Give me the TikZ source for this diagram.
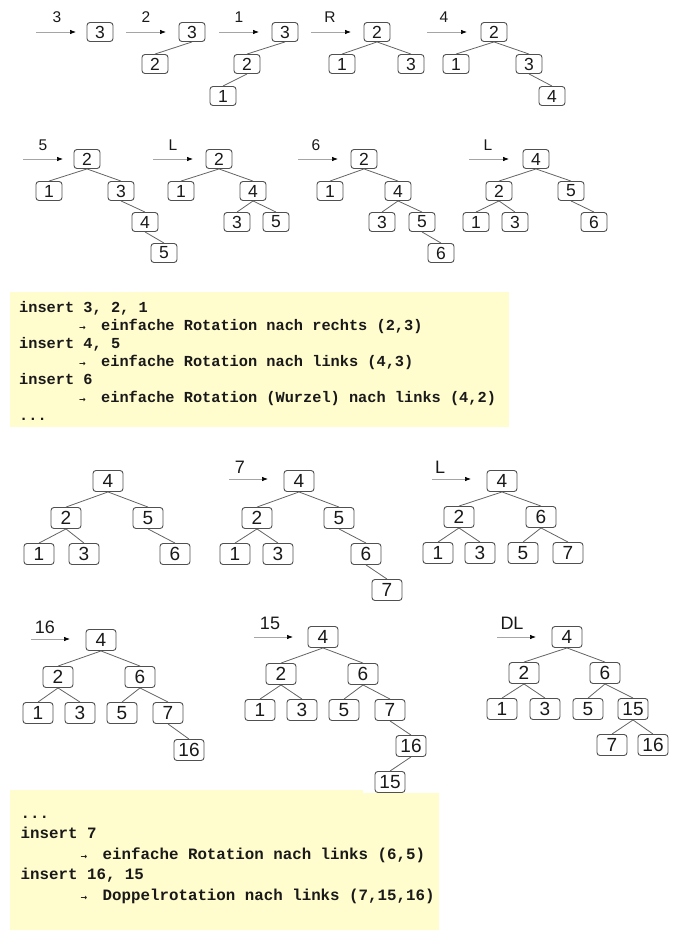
\documentclass[tikz,border=0pt]{standalone}
\usepackage{fontspec}
\setmainfont{Liberation Sans}
\newfontfamily\codefont{Liberation Mono}
\newfontfamily\symfont{DejaVu Sans}
\usetikzlibrary{arrows.meta}

\definecolor{codebg}{RGB}{255,252,206}
\definecolor{boxline}{RGB}{80,80,80}
\definecolor{edgeline}{RGB}{100,100,100}
\definecolor{insline}{RGB}{165,165,165}
\definecolor{ink}{RGB}{25,25,25}

\newcommand{\rotline}[1]{\hspace*{60pt}\makebox[22pt][l]{\symfont\fontsize{8}{8}\selectfont →}#1}
\newcommand{\codedots}{...}

\tikzset{
  key/.style={draw=boxline, rounded corners=3pt, line width=0.9pt, inner sep=0pt,
    minimum width=26pt, minimum height=19pt, text=ink, font=\fontsize{17.5}{17.5}\selectfont},
  bigkey/.style={key, minimum width=30pt, minimum height=21pt, font=\fontsize{19}{19}\selectfont},
  link/.style={draw=edgeline, line width=0.8pt},
  ins/.style={draw=insline, line width=0.7pt, -{Latex[color=black, length=6pt, width=4.5pt]}},
  inslabel/.style={text=ink, inner sep=0pt, font=\fontsize{15.5}{15.5}\selectfont},
  biglabel/.style={inslabel, font=\fontsize{18}{18}\selectfont},
  codeline/.style={anchor=base west, inner sep=0pt, text=ink, font=\codefont\bfseries\fontsize{15.3}{18}\selectfont},
  bigcodeline/.style={codeline, font=\codefont\bfseries\fontsize{15.8}{20}\selectfont},
}

\begin{document}
\begin{tikzpicture}[x=1pt, y=-1pt]
    \useasboundingbox (0,0) rectangle (678,944);

    \foreach \i/\x/\y/\lx/\ly/\t in {1/36/32/57/17/3, 2/126/32/146/17/2, 3/219/32/239/17/1,
        4/311/32/330/17/R, 5/427/32/444/17/4, 6/23/159/43/145/5, 7/153/159/173/145/L,
        8/298/159/316/145/6, 9/469/159/488/145/L} {
        \coordinate (s\i) at (\x,\y);
        \coordinate (e\i) at (\x+40,\y);
        \draw[ins] (s\i) -- (e\i);
        \node[inslabel] (lab\i) at (\lx,\ly) {\t};
    }
    \foreach \i/\x/\y/\lx/\ly/\t in {10/229/479/240/467/7, 11/432/479/440/467/L,
        12/31/639/45/627/16, 13/254/637/270/623/15, 14/497/637/512/623/DL} {
        \coordinate (s\i) at (\x,\y);
        \coordinate (e\i) at (\x+39,\y);
        \draw[ins] (s\i) -- (e\i);
        \node[biglabel] (lab\i) at (\lx,\ly) {\t};
    }

    \foreach \n/\x/\y/\v in {t1k3/100/32/3,
        t2k3/192/32/3, t2k2/155/64/2,
        t3k3/285/32/3, t3k2/247/64/2, t3k1/223/96/1,
        t4k2/377/32/2, t4k1/342/64/1, t4k3/411/64/3,
        t5k2/494/32/2, t5k1/456/64/1, t5k3/529/64/3, t5k4/552/96/4,
        t6k2/87/159/2, t6k1/49/191/1, t6k3/121/191/3, t6k4/145/222/4, t6k5/164/253/5,
        t7k2/219/159/2, t7k1/181/191/1, t7k4/253/191/4, t7k3/237/222/3, t7k5/276/222/5,
        t8k2/364/159/2, t8k1/330/191/1, t8k4/398/191/4, t8k3/382/222/3, t8k5/422/222/5, t8k6/441/253/6,
        t9k4/536/159/4, t9k2/499/191/2, t9k5/571/191/5, t9k1/476/222/1, t9k3/515/222/3, t9k6/594/222/6}
        \node[key] (\n) at (\x,\y) {\v};

    \foreach \n/\x/\y/\v in {u1k4/108/481/4, u1k2/66/518/2, u1k5/148/518/5, u1k1/39/554/1, u1k3/84/554/3, u1k6/175/554/6,
        u2k4/299/481/4, u2k2/257/518/2, u2k5/339/518/5, u2k1/235/554/1, u2k3/278/554/3, u2k6/366/554/6, u2k7/387/590/7,
        u3k4/502/481/4, u3k2/459/517/2, u3k6/541/517/6, u3k1/438/553/1, u3k3/480/553/3, u3k5/523/553/5, u3k7/568/553/7,
        u4k4/101/640/4, u4k2/58/677/2, u4k6/140/677/6, u4k1/38/713/1, u4k3/80/713/3, u4k5/122/713/5, u4k7/168/713/7, u4k16/189/750/16,
        u5k4/323/637/4, u5k2/281/674/2, u5k6/363/674/6, u5k1/260/710/1, u5k3/302/710/3, u5k5/344/710/5, u5k7/390/710/7,
        u5k16/411/746/16, u5k15/390/782/15,
        u6k4/567/637/4, u6k2/524/673/2, u6k6/605/673/6, u6k1/502/709/1, u6k3/545/709/3, u6k5/588/709/5, u6k15/633/709/15,
        u6k7/612/745/7, u6k16/653/745/16}
        \node[bigkey] (\n) at (\x,\y) {\v};

    \foreach \p/\c in {t2k3/t2k2, t3k3/t3k2, t3k2/t3k1, t4k2/t4k1, t4k2/t4k3,
        t5k2/t5k1, t5k2/t5k3, t5k3/t5k4,
        t6k2/t6k1, t6k2/t6k3, t6k3/t6k4, t6k4/t6k5,
        t7k2/t7k1, t7k2/t7k4, t7k4/t7k3, t7k4/t7k5,
        t8k2/t8k1, t8k2/t8k4, t8k4/t8k3, t8k4/t8k5, t8k5/t8k6,
        t9k4/t9k2, t9k4/t9k5, t9k2/t9k1, t9k2/t9k3, t9k5/t9k6,
        u1k4/u1k2, u1k4/u1k5, u1k2/u1k1, u1k2/u1k3, u1k5/u1k6,
        u2k4/u2k2, u2k4/u2k5, u2k2/u2k1, u2k2/u2k3, u2k5/u2k6, u2k6/u2k7,
        u3k4/u3k2, u3k4/u3k6, u3k2/u3k1, u3k2/u3k3, u3k6/u3k5, u3k6/u3k7,
        u4k4/u4k2, u4k4/u4k6, u4k2/u4k1, u4k2/u4k3, u4k6/u4k5, u4k6/u4k7, u4k7/u4k16,
        u5k4/u5k2, u5k4/u5k6, u5k2/u5k1, u5k2/u5k3, u5k6/u5k5, u5k6/u5k7, u5k7/u5k16, u5k16/u5k15,
        u6k4/u6k2, u6k4/u6k6, u6k2/u6k1, u6k2/u6k3, u6k6/u6k5, u6k6/u6k15, u6k15/u6k7, u6k15/u6k16}
        \draw[link] (\p.south) -- (\c.north);

    \fill[codebg] (10,292) rectangle (509,427);
    \foreach \txt [count=\i] in {{insert 3, 2, 1}, {\rotline{einfache Rotation nach rechts (2,3)}},
        {insert 4, 5}, {\rotline{einfache Rotation nach links (4,3)}},
        {insert 6}, {\rotline{einfache Rotation (Wurzel) nach links (4,2)}}, {\codedots}}
        \node[codeline] (ca\i) at (19,{312+18.1*(\i-1)}) {\txt};

    \fill[codebg] (10,790) -- (363,790) -- (363,793) -- (439,793) -- (439,930) -- (10,930) -- cycle;
    \foreach \txt [count=\i] in {{\codedots}, {insert 7}, {\rotline{einfache Rotation nach links (6,5)}},
        {insert 16, 15}, {\rotline{Doppelrotation nach links (7,15,16)}}}
        \node[bigcodeline] (cb\i) at (20.5,{818+20.5*(\i-1)}) {\txt};
\end{tikzpicture}
\end{document}
